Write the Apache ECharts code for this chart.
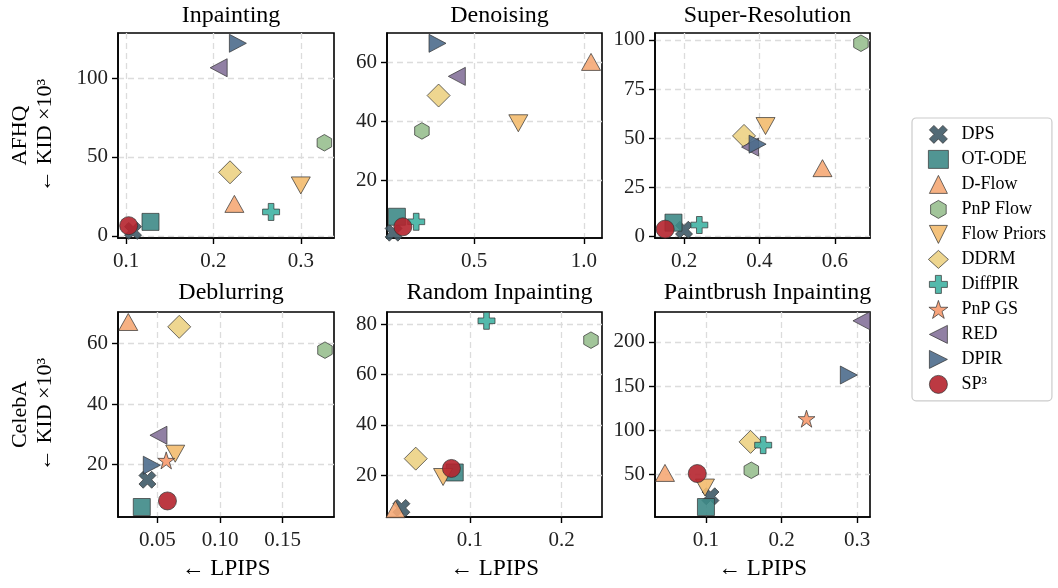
<!DOCTYPE html>
<html><head><meta charset="utf-8">
<script src="https://cdn.jsdelivr.net/npm/echarts@6/dist/echarts.min.js"></script>
<style>html,body{margin:0;padding:0;background:#fff}#c{width:1058px;height:588px}</style>
</head><body><div id="c"></div>
<script>
// ---------- data ----------
const methods = ['DPS','OT-ODE','D-Flow','PnP Flow','Flow Priors','DDRM','DiffPIR','PnP GS','RED','DPIR','SP³'];
const panelTitles = ['Inpainting','Denoising','Super-Resolution','Deblurring','Random Inpainting','Paintbrush Inpainting'];
const rowLabels = ['AFHQ\n← KID ×10³', 'CelebA\n← KID ×10³'];
const xLabel = '← LPIPS';

// per panel LPIPS (x) and KID×10^3 (y), in method order (null = not shown)
const inpaintX   = [0.108, 0.128, 0.224, 0.327, 0.300, 0.219, 0.266, null, 0.206, 0.228, 0.103];
const inpaintY   = [3.2, 8.9, 20.3, 59.0, 32.0, 40.3, 15.2, null, 106.5, 122.0, 6.5];
const denoiseX   = [0.133, 0.148, 1.032, 0.262, 0.701, 0.338, 0.236, null, 0.421, 0.333, 0.175];
const denoiseY   = [2.3, 7.7, 60.2, 36.8, 39.4, 48.8, 6.0, null, 55.3, 66.5, 4.3];
const superResX  = [0.200, 0.172, 0.567, 0.669, 0.416, 0.359, 0.2405, null, 0.375, 0.395, 0.150];
const superResY  = [3.5, 7.1, 34.8, 98.3, 56.2, 51.2, 5.9, null, 45.5, 47.0, 3.8];
const deblurX    = [0.042, 0.0375, 0.0267, 0.1838, 0.0642, 0.0674, null, 0.057, 0.0508, 0.0455, 0.058];
const deblurY    = [15.0, 6.0, 67.1, 57.8, 23.6, 65.5, null, 21.4, 29.7, 19.8, 8.0];
const randInpX   = [0.0255, 0.0836, 0.019, 0.232, 0.0709, 0.0411, 0.1182, null, null, null, 0.080];
const randInpY   = [7.0, 21.1, 6.5, 73.7, 19.3, 26.6, 81.4, null, null, null, 22.7];
const paintX     = [0.106, 0.100, 0.0458, 0.160, 0.0987, 0.159, 0.1757, 0.233, 0.3057, 0.289, 0.0885];
const paintY     = [25.0, 12.8, 51.5, 54.5, 34.9, 86.7, 83.0, 113.0, 224.0, 162.5, 50.8];

// axis limits and tick labels per panel
const xRanges = [[0.0908, 0.338], [0.103, 1.082], [0.123, 0.693], [0.0185, 0.191], [0.0098, 0.244], [0.0326, 0.317]];
const yRanges = [[-1.3, 128.5], [0.5, 70], [-0.7, 103.5], [2.7, 70.4], [3.4, 84.9], [1.5, 234]];
const xTickLabels = [['0.1','0.2','0.3'], ['0.5','1.0'], ['0.2','0.4','0.6'], ['0.05','0.10','0.15'], ['0.1','0.2'], ['0.1','0.2','0.3']];
const yTickLabels = [['0','50','100'], ['20','40','60'], ['0','25','50','75','100'], ['20','40','60'], ['20','40','60','80'], ['50','100','150','200']];

// ---------- styles ----------
const colors = ['#3f5a67','#3e8a87','#f5a876','#98bf8f','#f3bb6e','#ecd184','#40b3a3','#f79a6e','#85729a','#4d6b8c','#b5232d'];
function polyPath(pts){ return 'path://M' + pts.map(p => p[0].toFixed(4)+','+p[1].toFixed(4)).join('L') + 'Z'; }
function rot(pts, deg){ const a = deg*Math.PI/180, c = Math.cos(a), s = Math.sin(a); return pts.map(p => [p[0]*c - p[1]*s, p[0]*s + p[1]*c]); }
const plusPts = [[-1,-3],[1,-3],[1,-1],[3,-1],[3,1],[1,1],[1,3],[-1,3],[-1,1],[-3,1],[-3,-1],[-1,-1]];
const plusPath = polyPath(plusPts);
const xPath = polyPath(rot(plusPts, 45));
const hexPath = polyPath([0,1,2,3,4,5].map(k => { const a = (90 + 60*k) * Math.PI/180; return [Math.cos(a), -Math.sin(a)]; }));
const starPath = polyPath([...Array(10).keys()].map(k => { const r = k%2 ? 0.382 : 1; const a = (90 + 36*k) * Math.PI/180; return [r*Math.cos(a), -r*Math.sin(a)]; }));
const triUp = polyPath([[0,-1],[1,1],[-1,1]]);
const triDown = polyPath([[0,1],[1,-1],[-1,-1]]);
const triLeft = polyPath([[-1,0],[1,-1],[1,1]]);
const triRight = polyPath([[1,0],[-1,-1],[-1,1]]);
const symbols = [xPath,'rect',triUp,hexPath,triDown,'diamond',plusPath,starPath,triLeft,triRight,'circle'];
const symSize = [17,17,[19,17],[14.5,16.5],[19,17],23,17,17,[17,18],[17,18],18];

const panelsX = [inpaintX, denoiseX, superResX, deblurX, randInpX, paintX];
const panelsY = [inpaintY, denoiseY, superResY, deblurY, randInpY, paintY];

const colLeft = [118, 387, 655];
const colWidth = [216, 215, 215];
const rowTop = [33, 312];
const plotH = 205;
const FONT = 'Liberation Serif';

const grids = [], xAxes = [], yAxes = [], titles = [], series = [];
for (let p = 0; p < 6; p++) {
  const r = Math.floor(p/3), c = p % 3;
  grids.push({left: colLeft[c], top: rowTop[r], width: colWidth[c], height: plotH,
    show: true, borderColor: '#000', borderWidth: 1.6, backgroundColor: 'transparent', containLabel: false});
  titles.push({text: panelTitles[p], left: colLeft[c] + colWidth[c]/2, textAlign: 'center',
    top: r === 0 ? -1 : 276, textStyle: {fontFamily: FONT, fontSize: 24, fontWeight: 'normal', color: '#000'}});
  const xt = xTickLabels[p].map(Number), yt = yTickLabels[p].map(Number);
  const xl = xTickLabels[p], yl = yTickLabels[p];
  xAxes.push({type: 'value', gridIndex: p, min: xRanges[p][0], max: xRanges[p][1],
    name: r === 1 ? xLabel : '', nameLocation: 'middle', nameGap: 40,
    nameTextStyle: {fontFamily: FONT, fontSize: 23, color: '#000'},
    axisLine: {show: true, onZero: false, lineStyle: {color: '#000', width: 1.6}},
    axisTick: {show: true, length: 6, lineStyle: {color: '#000', width: 1.4}, customValues: xt},
    axisLabel: {customValues: xt, margin: 13, fontFamily: FONT, fontSize: 21, color: '#222',
      formatter: v => { const i = xt.findIndex(t => Math.abs(t - v) < 1e-9); return i >= 0 ? xl[i] : ''; }},
    splitLine: {show: true, lineStyle: {color: '#dcdcdc', width: 1.3, type: [6, 4]}}
  });
  yAxes.push({type: 'value', gridIndex: p, min: yRanges[p][0], max: yRanges[p][1],
    name: c === 0 ? rowLabels[r] : '', nameLocation: 'middle', nameGap: 60,
    nameTextStyle: {fontFamily: FONT, fontSize: 22, lineHeight: 25, color: '#000', align: 'center'},
    axisLine: {show: true, onZero: false, lineStyle: {color: '#000', width: 1.6}},
    axisTick: {show: true, length: 6, lineStyle: {color: '#000', width: 1.4}, customValues: yt},
    axisLabel: {customValues: yt, margin: 10, fontFamily: FONT, fontSize: 21, color: '#222',
      formatter: v => { const i = yt.findIndex(t => Math.abs(t - v) < 1e-9); return i >= 0 ? yl[i] : ''; }},
    splitLine: {show: true, lineStyle: {color: '#dcdcdc', width: 1.3, type: [6, 4]}}
  });
  for (let m = 0; m < methods.length; m++) {
    const x = panelsX[p][m], y = panelsY[p][m];
    series.push({type: 'scatter', name: methods[m], xAxisIndex: p, yAxisIndex: p,
      data: (x === null || y === null) ? [] : [[x, y]],
      symbol: symbols[m], symbolSize: symSize[m], symbolKeepAspect: false,
      itemStyle: {color: colors[m], borderColor: '#333', borderWidth: 0.8, opacity: 0.9},
      z: 2 + m * 0.01, emphasis: {disabled: true}, silent: true, animation: false});
  }
}

const chart = echarts.init(document.getElementById('c'), null, {renderer: 'canvas'});
chart.setOption({
  animation: false,
  backgroundColor: '#fff',
  title: titles,
  grid: grids, xAxis: xAxes, yAxis: yAxes, series: series,
  legend: {data: methods, orient: 'vertical', left: 912, top: 118,
    itemWidth: 20, itemHeight: 18, itemGap: 6.2,
    padding: [7, 6, 7, 16],
    itemStyle: {borderWidth: 0.8, borderColor: '#333'},
    borderColor: '#cccccc', borderWidth: 1.2, borderRadius: 4, backgroundColor: '#fff',
    textStyle: {fontFamily: FONT, fontSize: 18, lineHeight: 18, color: '#000', padding: [0, 0, 0, 8]},
    inactiveColor: '#ccc', selectedMode: false}
});
</script></body></html>
